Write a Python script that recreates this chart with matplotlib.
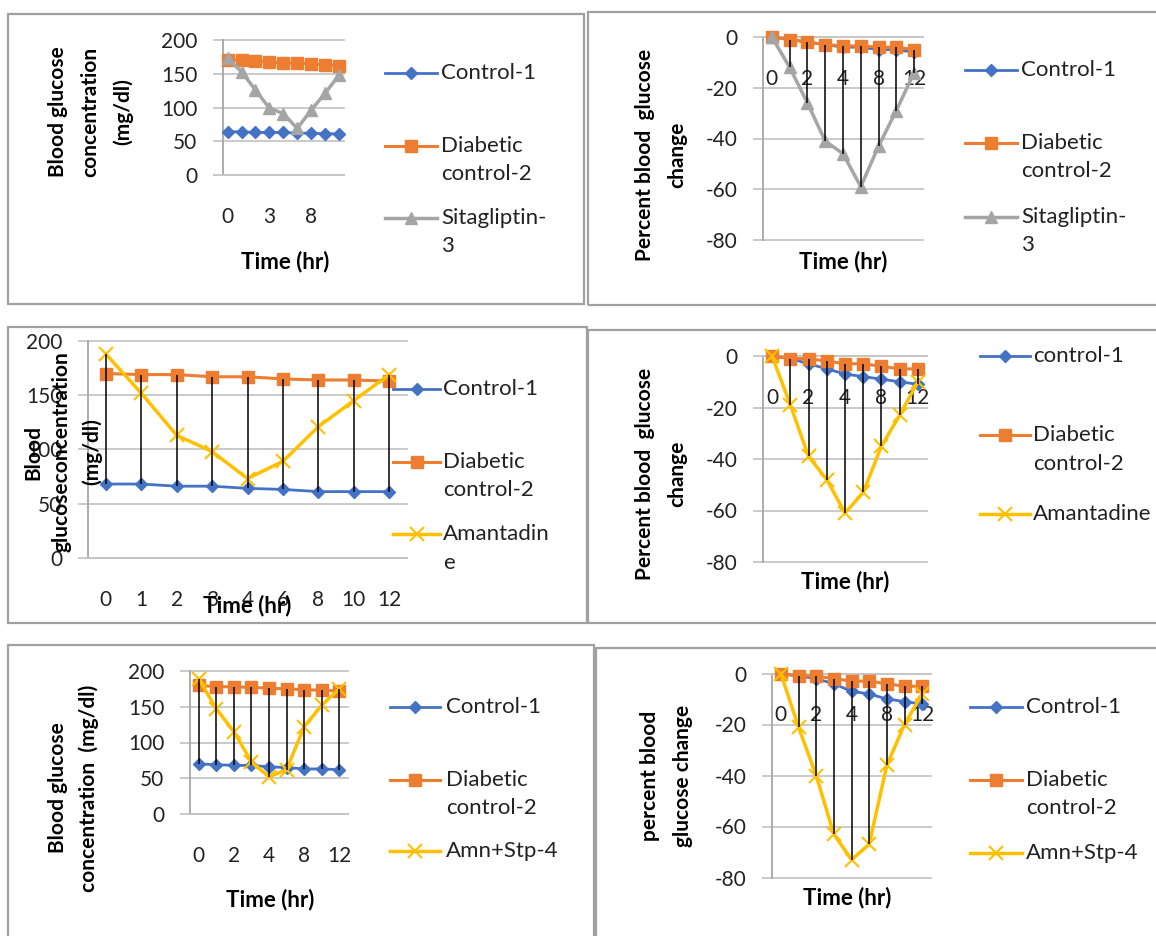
import matplotlib.pyplot as plt
from matplotlib.lines import Line2D
from matplotlib.patches import Rectangle
import numpy as np

plt.rcParams['font.family'] = ['Lato', 'DejaVu Sans']

W, H = 1156, 936

hours = ['0', '1', '2', '3', '4', '6', '8', '10', '12']

# top row: sitagliptin
sit_control = [64, 64, 63, 63, 63, 62, 62, 61, 61]
sit_diabetic = [171, 170, 169, 167, 166, 166, 165, 163, 162]
sit_drug = [173, 153, 126, 99, 91, 69, 96, 121, 148]
sit_control_pct = [0, -1, -2, -3, -4, -4, -5, -5, -6]
sit_diabetic_pct = [0, -1, -2, -3, -3.5, -3.5, -4, -4, -5]
sit_drug_pct = [0, -12, -26, -41, -46, -59, -43, -29, -14]

# middle row: amantadine
amn_control = [68, 68, 66, 66, 64, 63, 61, 61, 61]
amn_diabetic = [170, 169, 169, 167, 167, 165, 164, 164, 163]
amn_drug = [188, 152, 113, 98, 73, 89, 121, 145, 169]
amn_control_pct = [0, -1, -3, -5, -7, -8, -9, -10, -11]
amn_diabetic_pct = [0, -1, -1, -2, -3, -3, -4, -5, -5]
amn_drug_pct = [0, -19, -39, -48, -61, -53, -35, -23, -10]

# bottom row: amantadine + sitagliptin
cmb_control = [70, 69, 68, 68, 66, 65, 63, 63, 62]
cmb_diabetic = [180, 178, 178, 177, 176, 175, 174, 173, 172]
cmb_drug = [189, 147, 115, 73, 52, 62, 122, 152, 175]
cmb_control_pct = [0, -1, -2, -4, -7, -8, -10, -11, -12]
cmb_diabetic_pct = [0, -1, -1, -2, -3, -3, -4, -5, -5]
cmb_drug_pct = [0, -21, -40, -63, -73, -67, -36, -20, -8]

BLUE, ORANGE, GRAY, GOLD = '#4472C4', '#ED7D31', '#A5A5A5', '#FFC000'
GRID = '#C6C6C6'
AXIS = '#A6A6A6'
FRAME = '#A0A0A0'

style = {
    'control': dict(color=BLUE, marker='D', ms=6, lw=2),
    'diabetic': dict(color=ORANGE, marker='s', ms=9, lw=2.2),
    'sita': dict(color=GRAY, marker='^', ms=9, lw=2.5),
    'amn': dict(color=GOLD, marker='x', ms=10, mew=1.5, lw=2.5),
}

fig = plt.figure(figsize=(W / 100, H / 100), dpi=100)


def fy(y):
    return 1 - y / H


def frame(l, t, r, b):
    fig.add_artist(Rectangle((l / W, fy(b)), (r - l) / W, (b - t) / H,
                             transform=fig.transFigure, fill=False,
                             ec=FRAME, lw=1.6))


def panel(box, xlim, ylim, yticks, xticks, series, high_low):
    l, t, r, b = box
    ax = fig.add_axes([l / W, fy(b), (r - l) / W, (b - t) / H])
    x = np.arange(len(hours))
    for vals, key in series:
        ax.plot(x, vals, clip_on=False, zorder=3, **style[key])
    if high_low:
        stack = np.array([v for v, _ in series])
        ax.vlines(x, stack.min(0), stack.max(0), colors='k', lw=1.1, zorder=5)
    ax.set_xlim(*xlim)
    ax.set_ylim(*ylim)
    ax.set_yticks(yticks)
    ax.set_yticklabels([str(v) for v in yticks])
    ax.set_xticks(xticks)
    ax.set_xticklabels([hours[i] for i in xticks])
    ax.grid(axis='y', color=GRID, lw=1.3)
    for gl in ax.get_ygridlines():
        gl.set_clip_on(False)
    ax.set_axisbelow(True)
    for s in ('top', 'right'):
        ax.spines[s].set_visible(False)
    ax.spines['bottom'].set_position(('data', 0))
    ax.spines['bottom'].set_color(GRID)
    ax.spines['bottom'].set_linewidth(1.3)
    ax.spines['left'].set_color(AXIS)
    ax.spines['left'].set_linewidth(1.3)
    ax.tick_params(axis='y', length=7.5, width=1.3, color=GRID, pad=11,
                   labelsize=15, labelcolor='#222222')
    ax.tick_params(axis='x', length=0, pad=23, labelsize=15,
                   labelcolor='#222222')
    ax.patch.set_alpha(0)
    return ax


def legend(x1, x2, tx, entries):
    for key, lines, y in entries:
        st = style[key]
        fig.add_artist(Line2D([x1 / W, (x1 + x2) / 2 / W, x2 / W], [fy(y)] * 3,
                              transform=fig.transFigure, markevery=[1], **st))
        for i, txt in enumerate(lines):
            fig.text(tx / W, fy(y + i * 28.5), txt, fontsize=16, ha='left',
                     va='center', color='#222222')


def ylabel(cy, items):
    for x, txt in items:
        fig.text(x / W, fy(cy), txt, rotation=90, fontsize=15,
                 fontweight='bold', ha='center', va='center')


def xlabel(cx, cy):
    fig.text(cx / W, fy(cy), 'Time (hr)', fontsize=16, fontweight='bold',
             ha='center', va='center')


# frames
frame(8, 14, 584, 304)
frame(588, 12, 1170, 305)
frame(8, 327, 587, 623)
frame(588, 330, 1170, 623)
frame(8, 645, 594, 950)
frame(596, 648, 1170, 950)

conc_ticks = [0, 50, 100, 150, 200]
pct_ticks = [-80, -60, -40, -20, 0]

# panel 1
panel((223, 40, 344, 175), (-0.33, 8.36), (0, 200), conc_ticks, [0, 3, 6],
      [(sit_control, 'control'), (sit_diabetic, 'diabetic'), (sit_drug, 'sita')],
      False)
legend(385, 437, 441, [('control', ['Control-1'], 72.7),
                       ('diabetic', ['Diabetic', 'control-2'], 145.7),
                       ('sita', ['Sitagliptin-', '3'], 218)])
ylabel(112, [(58, 'Blood glucose'), (90, 'concentration'), (123, '(mg/dl)')])
xlabel(285, 262)

# panel 2
panel((763, 37, 923, 240), (-0.5, 8.5), (-80, 0), pct_ticks, [0, 2, 4, 6, 8],
      [(sit_control_pct, 'control'), (sit_diabetic_pct, 'diabetic'),
       (sit_drug_pct, 'sita')], True)
legend(965, 1017, 1021, [('control', ['Control-1'], 70),
                         ('diabetic', ['Diabetic', 'control-2'], 142.7),
                         ('sita', ['Sitagliptin-', '3'], 216.7)])
ylabel(155, [(645, 'Percent blood  glucose'), (677, 'change')])
xlabel(843, 262)

# panel 3
panel((88, 341, 407, 557.7), (-0.5, 8.5), (0, 200), conc_ticks, list(range(9)),
      [(amn_control, 'control'), (amn_diabetic, 'diabetic'), (amn_drug, 'amn')],
      True)
legend(393, 440, 443, [('control', ['Control-1'], 389),
                       ('diabetic', ['Diabetic', 'control-2'], 461.7),
                       ('amn', ['Amantadin', 'e'], 534.3)])
ylabel(452, [(33, 'Blood'), (62, 'glucoseconcentration'), (92, '(mg/dl)')])
xlabel(247, 606)

# panel 4
panel((763, 356, 927, 562), (-0.5, 8.5), (-80, 0), pct_ticks, [0, 2, 4, 6, 8],
      [(amn_control_pct, 'control'), (amn_diabetic_pct, 'diabetic'),
       (amn_drug_pct, 'amn')], True)
legend(980, 1030, 1033, [('control', ['control-1'], 356),
                         ('diabetic', ['Diabetic', 'control-2'], 435),
                         ('amn', ['Amantadine'], 514.3)])
ylabel(474, [(645, 'Percent blood  glucose'), (677, 'change')])
xlabel(845, 582)

# panel 5
panel((190, 671, 348, 814), (-0.5, 8.5), (0, 200), conc_ticks, [0, 2, 4, 6, 8],
      [(cmb_control, 'control'), (cmb_diabetic, 'diabetic'), (cmb_drug, 'amn')],
      True)
legend(390, 440, 446, [('control', ['Control-1'], 707.3),
                       ('diabetic', ['Diabetic', 'control-2'], 780),
                       ('amn', ['Amn+Stp-4'], 850.7)])
ylabel(788, [(58, 'Blood glucose'), (89, 'concentration  (mg/dl)')])
xlabel(270, 900)

# panel 6
panel((772, 673.5, 931, 877.5), (-0.5, 8.5), (-80, 0), pct_ticks, [0, 2, 4, 6, 8],
      [(cmb_control_pct, 'control'), (cmb_diabetic_pct, 'diabetic'),
       (cmb_drug_pct, 'amn')], True)
legend(970, 1022, 1026, [('control', ['Control-1'], 707.3),
                         ('diabetic', ['Diabetic', 'control-2'], 780),
                         ('amn', ['Amn+Stp-4'], 852.7)])
ylabel(776, [(650, 'percent blood'), (683, 'glucose change')])
xlabel(847, 898)

fig.savefig('out.png', dpi=100)
